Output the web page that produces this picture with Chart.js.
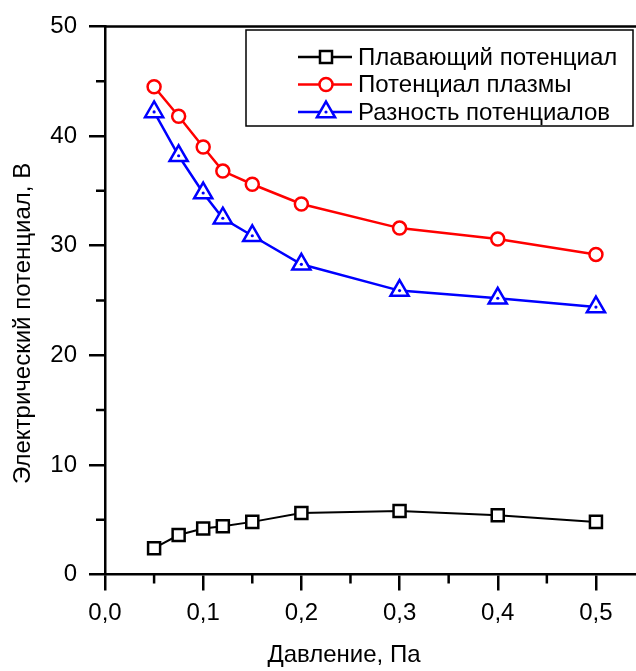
<!DOCTYPE html>
<html>
<head>
<meta charset="utf-8">
<script src="https://cdn.jsdelivr.net/npm/chart.js@4.4.0/dist/chart.umd.min.js"></script>
<style>
  html, body { margin: 0; padding: 0; background: #fff; overflow: hidden; }
  #wrap { width: 636px; height: 671px; overflow: hidden; }
  #box { width: 660px; height: 671px; position: relative; }
</style>
</head>
<body>
<div id="wrap"><div id="box"><canvas id="potChart"></canvas></div></div>
<script>
// давление, Па
const pressure = [0.05, 0.075, 0.1, 0.12, 0.15, 0.2, 0.3, 0.4, 0.5];
// потенциалы, В
const floating = [2.4, 3.6, 4.2, 4.4, 4.8, 5.6, 5.8, 5.4, 4.8];
const plasma = [44.5, 41.8, 39.0, 36.8, 35.6, 33.8, 31.6, 30.6, 29.2];
const difference = [42.2, 38.2, 34.8, 32.5, 30.9, 28.3, 25.9, 25.2, 24.4];

const seriesNames = ["Плавающий потенциал", "Потенциал плазмы", "Разность потенциалов"];
const xTitle = "Давление, Па";
const yTitle = "Электрический потенциал, В";
const xMinor = [0.05, 0.15, 0.25, 0.35, 0.45];
const yMinor = [5, 15, 25, 35, 45];

const FONT = "'Liberation Sans', Arial, sans-serif";
const FONT_SIZE = 24;

const toPoints = (vals) => vals.map((v, i) => ({ x: pressure[i], y: v }));

// short ticks between the labelled ones, top frame line, axis titles
const frameTicks = {
    id: "frameTicks",
    afterDraw(chart) {
        const { ctx, chartArea, scales: { x, y } } = chart;
        ctx.save();
        ctx.strokeStyle = "#000";
        ctx.lineWidth = 2.5;
        ctx.beginPath();
        xMinor.forEach((v) => {
            const px = x.getPixelForValue(v);
            ctx.moveTo(px, chartArea.bottom);
            ctx.lineTo(px, chartArea.bottom + 9);
        });
        yMinor.forEach((v) => {
            const py = y.getPixelForValue(v);
            ctx.moveTo(chartArea.left, py);
            ctx.lineTo(chartArea.left - 9, py);
        });
        ctx.moveTo(chartArea.left - 1, chartArea.top);
        ctx.lineTo(chartArea.right, chartArea.top);
        ctx.lineTo(chartArea.right, chartArea.bottom);
        ctx.stroke();

        ctx.fillStyle = "#000";
        ctx.font = FONT_SIZE + "px " + FONT;
        ctx.textAlign = "center";
        ctx.textBaseline = "middle";
        ctx.fillText(xTitle, chartArea.left + 239, 655);

        ctx.translate(23, chartArea.top + 297);
        ctx.rotate(-Math.PI / 2);
        ctx.fillText(yTitle, 0, 0);
        ctx.restore();
    },
};

// dot in the middle of each triangle
const triangleDots = {
    id: "triangleDots",
    afterDatasetsDraw(chart) {
        const { ctx } = chart;
        const meta = chart.getDatasetMeta(2);
        ctx.save();
        ctx.fillStyle = "#0000ff";
        meta.data.forEach((pt) => {
            ctx.beginPath();
            ctx.arc(pt.x, pt.y, 1.6, 0, Math.PI * 2);
            ctx.fill();
        });
        ctx.restore();
    },
};

// framed legend with line + marker samples
const boxLegend = {
    id: "boxLegend",
    afterDraw(chart) {
        const { ctx } = chart;
        const left = 246, top = 30, right = 633, bottom = 126;
        const rows = [57, 84.5, 112];
        ctx.save();
        ctx.fillStyle = "#fff";
        ctx.fillRect(left, top, right - left, bottom - top);
        ctx.strokeStyle = "#000";
        ctx.lineWidth = 1.5;
        ctx.strokeRect(left, top, right - left, bottom - top);

        chart.data.datasets.forEach((ds, i) => {
            const yy = rows[i];
            ctx.strokeStyle = ds.borderColor;
            ctx.lineWidth = 2.5;
            ctx.beginPath();
            ctx.moveTo(298, yy);
            ctx.lineTo(352, yy);
            ctx.stroke();

            ctx.fillStyle = "#fff";
            ctx.lineWidth = ds.pointBorderWidth;
            Chart.helpers.drawPoint(ctx, {
                pointStyle: ds.pointStyle,
                radius: ds.pointRadius,
                rotation: 0,
                borderWidth: ds.pointBorderWidth,
            }, 326, yy);
            if (ds.pointStyle === "triangle") {
                ctx.fillStyle = ds.borderColor;
                ctx.beginPath();
                ctx.arc(326, yy, 1.6, 0, Math.PI * 2);
                ctx.fill();
            }

            ctx.fillStyle = "#000";
            ctx.font = FONT_SIZE + "px " + FONT;
            ctx.textAlign = "left";
            ctx.textBaseline = "middle";
            ctx.fillText(ds.label, 358, yy + 1);
        });
        ctx.restore();
    },
};

const ctx = document.getElementById("potChart").getContext("2d");
new Chart(ctx, {
    type: "line",
    data: {
        datasets: [
            {
                label: seriesNames[0], data: toPoints(floating),
                borderColor: "#000000", borderWidth: 2,
                pointStyle: "rect", pointRadius: 8.5, pointBorderWidth: 2.5,
                pointBackgroundColor: "#fff", fill: false,
            },
            {
                label: seriesNames[1], data: toPoints(plasma),
                borderColor: "#ff0000", borderWidth: 2.5,
                pointStyle: "circle", pointRadius: 6.5, pointBorderWidth: 2.5,
                pointBackgroundColor: "#fff", fill: false,
            },
            {
                label: seriesNames[2], data: toPoints(difference),
                borderColor: "#0000ff", borderWidth: 2.5,
                pointStyle: "triangle", pointRadius: 10.5, pointBorderWidth: 2.5,
                pointBackgroundColor: "#fff", fill: false,
            },
        ],
    },
    options: {
        responsive: true,
        maintainAspectRatio: false,
        animation: false,
        layout: { padding: { top: 25, right: 10, left: 0, bottom: 0 } },
        plugins: {
            legend: { display: false },
            tooltip: { enabled: false },
        },
        elements: { line: { tension: 0 } },
        scales: {
            x: {
                type: "linear",
                min: 0,
                max: 0.552,
                afterFit: (scale) => { scale.height = 96.5; },
                grid: {
                    drawOnChartArea: false, drawTicks: true, tickLength: 16,
                    color: "#000", lineWidth: 2.5,
                },
                border: { display: true, color: "#000", width: 2.5 },
                ticks: {
                    stepSize: 0.1, includeBounds: false, padding: 8,
                    color: "#000", font: { family: FONT, size: FONT_SIZE },
                    maxRotation: 0,
                    callback: (v) => v.toFixed(1).replace(".", ","),
                },
            },
            y: {
                min: 0,
                max: 50,
                afterFit: (scale) => { scale.width = 105; },
                grid: {
                    drawOnChartArea: false, drawTicks: true, tickLength: 16,
                    color: "#000", lineWidth: 2.5,
                },
                border: { display: true, color: "#000", width: 2.5 },
                ticks: {
                    stepSize: 10, padding: 12,
                    color: "#000", font: { family: FONT, size: FONT_SIZE },
                },
            },
        },
    },
    plugins: [frameTicks, triangleDots, boxLegend],
});
</script>
</body>
</html>
